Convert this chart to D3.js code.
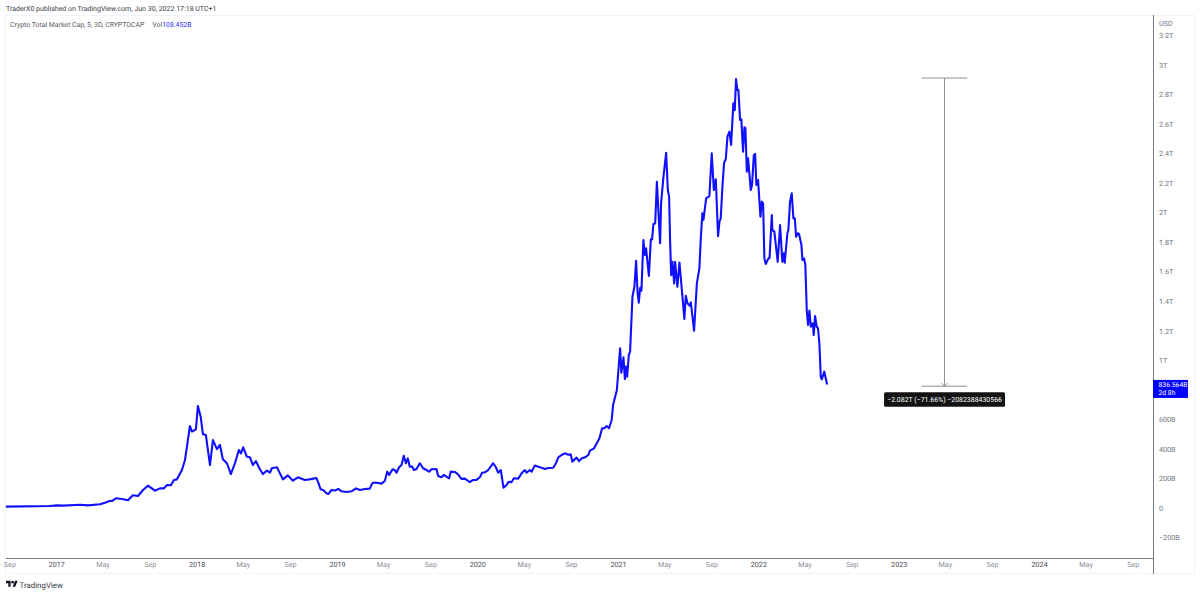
<!DOCTYPE html>
<html>
<head>
<meta charset="utf-8">
<style>
html, body { margin: 0; padding: 0; background: #fff; }
svg { display: block; }
text { font-family: Roboto, "Open Sans", sans-serif; text-rendering: geometricPrecision; }
.axis path, .axis line { display: none; }
.ytick text { font-size: 7.2px; fill: #6f7280; }
.xtick text { font-size: 7.2px; fill: #8a8d99; }
.xtick text.year { fill: #4a4c55; }
</style>
</head>
<body>
<script src="https://cdn.jsdelivr.net/npm/d3@7"></script>
<script>

var width = 1200,
    height = 595;

// market cap close, 5D bars. years = decimal year, capB = billions USD
var years = [
2016.642,2016.955,2017.005,2017.048,2017.169,2017.226,2017.311,2017.347,2017.383,2017.397,
2017.425,2017.468,2017.511,2017.546,2017.582,2017.618,2017.653,2017.703,2017.739,2017.767,
2017.789,2017.817,2017.838,2017.860,2017.895,2017.917,2017.931,2017.952,2017.967,2017.995,
2018.009,2018.029,2018.045,2018.066,2018.095,2018.116,2018.145,2018.166,2018.187,2018.216,
2018.244,2018.273,2018.301,2018.316,2018.332,2018.358,2018.380,2018.401,2018.422,2018.451,
2018.472,2018.501,2018.522,2018.536,2018.572,2018.615,2018.650,2018.686,2018.722,2018.771,
2018.807,2018.831,2018.854,2018.869,2018.883,2018.902,2018.926,2018.940,2018.961,2018.985,
2019.009,2019.033,2019.068,2019.104,2019.135,2019.163,2019.199,2019.234,2019.251,2019.270,
2019.294,2019.317,2019.341,2019.358,2019.372,2019.396,2019.412,2019.424,2019.443,2019.460,
2019.476,2019.491,2019.505,2019.519,2019.536,2019.548,2019.567,2019.590,2019.614,2019.638,
2019.657,2019.674,2019.709,2019.721,2019.745,2019.761,2019.780,2019.799,2019.811,2019.840,
2019.863,2019.887,2019.911,2019.947,2019.970,2019.994,2020.018,2020.034,2020.053,2020.077,
2020.113,2020.132,2020.148,2020.167,2020.186,2020.208,2020.224,2020.243,2020.260,2020.291,
2020.315,2020.338,2020.350,2020.374,2020.386,2020.409,2020.433,2020.457,2020.481,2020.504,
2020.540,2020.559,2020.576,2020.599,2020.623,2020.647,2020.664,2020.675,2020.706,2020.723,
2020.742,2020.766,2020.789,2020.801,2020.830,2020.849,2020.868,2020.887,2020.903,2020.920,
2020.936,2020.955,2020.965,2020.992,2021.015,2021.024,2021.039,2021.049,2021.058,2021.065,
2021.077,2021.086,2021.103,2021.117,2021.129,2021.139,2021.148,2021.158,2021.167,2021.181,
2021.191,2021.200,2021.220,2021.234,2021.243,2021.252,2021.265,2021.277,2021.300,2021.307,
2021.324,2021.343,2021.355,2021.364,2021.371,2021.379,2021.388,2021.400,2021.407,2021.423,
2021.438,2021.455,2021.473,2021.483,2021.495,2021.514,2021.519,2021.542,2021.562,2021.580,
2021.590,2021.601,2021.609,2021.628,2021.651,2021.668,2021.683,2021.697,2021.708,2021.713,
2021.723,2021.732,2021.744,2021.756,2021.768,2021.780,2021.794,2021.806,2021.822,2021.832,
2021.841,2021.851,2021.858,2021.870,2021.879,2021.891,2021.901,2021.908,2021.918,2021.927,
2021.946,2021.955,2021.968,2021.977,2021.986,2021.998,2022.015,2022.025,2022.034,2022.043,
2022.053,2022.072,2022.080,2022.096,2022.100,2022.114,2022.138,2022.155,2022.171,2022.181,
2022.188,2022.207,2022.214,2022.226,2022.238,2022.250,2022.260,2022.269,2022.281,2022.290,
2022.307,2022.314,2022.326,2022.335,2022.345,2022.354,2022.364,2022.374,2022.388,2022.395,
2022.404,2022.416,2022.425,2022.435,2022.445,2022.452,2022.470,2022.490
];
var capB = [
9,14,18,16,22,18,25,36,49,47,
66,61,52,86,81,122,151,117,133,133,
156,154,190,194,257,325,415,555,517,533,
691,618,499,494,291,460,399,427,330,303,
230,303,393,370,411,347,343,291,318,262,
230,253,239,269,276,194,221,185,208,190,
194,199,203,167,127,122,99,95,122,118,
129,113,108,113,133,122,129,131,167,172,
169,165,183,246,224,262,257,239,276,291,
354,303,336,280,280,257,264,303,269,257,
246,262,264,217,208,224,212,201,246,244,
228,197,199,176,190,190,208,239,242,257,
303,276,239,257,138,156,178,174,201,199,
235,257,239,257,246,287,280,273,264,271,
273,303,343,359,370,361,363,314,341,318,
336,343,359,388,404,438,472,540,540,555,
540,596,697,799,1081,916,1020,873,957,889,
1036,1058,1431,1498,1674,1464,1390,1491,1471,1814,
1713,1758,1571,1819,1819,1923,1927,2209,1792,2063,
2243,2405,2153,2108,1814,1577,1667,1521,1667,1498,
1661,1476,1280,1437,1386,1368,1393,1200,1521,1623,
1826,1995,1950,2097,2112,2401,2153,2225,1961,1841,
1938,1961,2175,2338,2361,2514,2548,2458,2740,2694,
2904,2830,2830,2627,2631,2412,2577,2571,2277,2367,
2153,2187,2390,2397,2187,2221,1972,2074,2063,1690,
1652,1690,1692,1984,1882,1871,1667,1916,1667,1724,
1661,1860,1882,2074,2130,1961,1961,1837,1860,1855,
1781,1679,1690,1645,1340,1239,1336,1227,1250,1171,
1300,1227,1217,1115,889,871,923,836.564
];

var yTicks = [3200,3000,2800,2600,2400,2200,2000,1800,1600,1400,1200,1000,600,400,200,0,-200];
var yTickLabels = ["3.2T","3T","2.8T","2.6T","2.4T","2.2T","2T","1.8T","1.6T","1.4T","1.2T","1T","600B","400B","200B","0","\u2212200B"];

var xTicks = ["2016-09-01","2017-01-01","2017-05-01","2017-09-01","2018-01-01","2018-05-01","2018-09-01","2019-01-01","2019-05-01","2019-09-01","2020-01-01","2020-05-01","2020-09-01","2021-01-01","2021-05-01","2021-09-01","2022-01-01","2022-05-01","2022-09-01","2023-01-01","2023-05-01","2023-09-01","2024-01-01","2024-05-01","2024-09-01"];
var xTickLabels = ["Sep","2017","May","Sep","2018","May","Sep","2019","May","Sep","2020","May","Sep","2021","May","Sep","2022","May","Sep","2023","May","Sep","2024","May","Sep"];

// price range tool: top and bottom levels, decimal years for cap ends and stem
var measureValues = [2911, 825];
var measureYears = [2023.164, 2023.327, 2023.489];

var parseDay = d3.utcParse("%Y-%m-%d");

function yearToDate(y) {
  var whole = Math.floor(y),
      a = Date.UTC(whole, 0, 1),
      b = Date.UTC(whole + 1, 0, 1);
  return new Date(a + (y - whole) * (b - a));
}

var x = d3.scaleUtc()
    .domain([parseDay("2017-01-01"), parseDay("2024-01-01")])
    .range([56.3, 1039]);

var y = d3.scaleLinear()
    .domain([0, 3000])
    .range([508, 64.9]);

var svg = d3.select("body").append("svg")
    .attr("width", width)
    .attr("height", height);

svg.append("rect").attr("width", width).attr("height", height).attr("fill", "#fff");

// outer frame and axis rules
svg.append("rect")
    .attr("x", 5.5).attr("y", 15.5)
    .attr("width", 1189).attr("height", 558)
    .attr("fill", "none").attr("stroke", "#f0f3fa");

svg.append("line")
    .attr("x1", 1153.5).attr("x2", 1153.5).attr("y1", 15).attr("y2", 574)
    .attr("stroke", "#787b86");

svg.append("line")
    .attr("x1", 6).attr("x2", 1153.5).attr("y1", 558.5).attr("y2", 558.5)
    .attr("stroke", "#787b86");

// header and legend
svg.append("text")
    .attr("x", 6).attr("y", 11)
    .attr("font-size", 7).attr("fill", "#3c3e46")
    .text("TraderX0 published on TradingView.com, Jun 30, 2022 17:18 UTC+1");

var legend = svg.append("text")
    .attr("x", 10).attr("y", 27)
    .attr("font-size", 6.9).attr("fill", "#5b5e69");
legend.append("tspan").text("Crypto Total Market Cap, 5, 3D, CRYPTOCAP");
legend.append("tspan").attr("dx", 8).text("Vol");
legend.append("tspan").attr("fill", "#2c2cff").text("108.452B");

// price axis
var yAxis = d3.axisRight(y)
    .tickValues(yTicks)
    .tickSize(0)
    .tickPadding(6)
    .tickFormat(function(d, i) { return yTickLabels[i]; });

svg.append("g")
    .attr("class", "axis ytick")
    .attr("transform", "translate(1153,0)")
    .call(yAxis);

svg.append("text")
    .attr("x", 1159).attr("y", 26)
    .attr("font-size", 7.2).attr("fill", "#6f7280")
    .text("USD");

// time axis
var xAxis = d3.axisBottom(x)
    .tickValues(xTicks.map(parseDay))
    .tickSize(0)
    .tickPadding(3)
    .tickFormat(function(d, i) { return xTickLabels[i]; });

svg.append("g")
    .attr("class", "axis xtick")
    .attr("transform", "translate(0,559)")
    .call(xAxis)
  .selectAll("text")
    .classed("year", function(d) { return d.getUTCMonth() === 0; });

// the series
var line = d3.line()
    .x(function(d, i) { return x(yearToDate(years[i])); })
    .y(function(d) { return y(d); });

svg.append("path")
    .datum(capB)
    .attr("d", line)
    .attr("fill", "none")
    .attr("stroke", "#1010ff")
    .attr("stroke-width", 2.1)
    .attr("stroke-linejoin", "round");

// price range tool
var mx0 = x(yearToDate(measureYears[0])),
    mx = x(yearToDate(measureYears[1])),
    mx1 = x(yearToDate(measureYears[2])),
    my0 = y(measureValues[0]),
    my1 = y(measureValues[1]);

var measure = svg.append("g")
    .attr("fill", "none")
    .attr("stroke", "#8a8d99")
    .attr("stroke-width", 1);

measure.selectAll("line")
    .data([
      [mx0, my0, mx1, my0],
      [mx0, my1, mx1, my1],
      [mx, my0, mx, my1],
      [mx - 3, my1 - 3, mx, my1],
      [mx + 3, my1 - 3, mx, my1]
    ])
  .enter().append("line")
    .attr("x1", function(d) { return d[0]; })
    .attr("y1", function(d) { return d[1]; })
    .attr("x2", function(d) { return d[2]; })
    .attr("y2", function(d) { return d[3]; });

svg.append("rect")
    .attr("x", mx - 60.5).attr("y", my1 + 6)
    .attr("width", 121).attr("height", 14.5)
    .attr("rx", 1.5)
    .attr("fill", "#131313");

svg.append("text")
    .attr("x", mx).attr("y", my1 + 16)
    .attr("text-anchor", "middle")
    .attr("font-size", 6.95).attr("fill", "#fff")
    .text("\u22122.082T (\u221271.66%) \u22122082388430566");

// last price tag
var lastY = y(capB[capB.length - 1]);

svg.append("rect")
    .attr("x", 1153).attr("y", lastY - 4.5)
    .attr("width", 35).attr("height", 18)
    .attr("fill", "#0000ff");

svg.append("text")
    .attr("x", 1158.5).attr("y", lastY + 3)
    .attr("font-size", 6.8).attr("fill", "#fff")
    .text("836.564B");

svg.append("text")
    .attr("x", 1158.5).attr("y", lastY + 11)
    .attr("font-size", 6.8).attr("fill", "#fff")
    .text("2d 8h");

// footer logo and name
var logo = svg.append("g")
    .attr("transform", "translate(6,579.5) scale(0.33)")
    .attr("fill", "#131722");

logo.append("path").attr("d", "M14 22H7V11H0V4h14v18zM28 22h-8l7.5-18h8L28 22z");
logo.append("circle").attr("cx", 20).attr("cy", 8).attr("r", 4);

svg.append("text")
    .attr("x", 19.5).attr("y", 588)
    .attr("font-size", 7.9).attr("fill", "#3c3e46")
    .text("TradingView");

</script>
</body>
</html>
